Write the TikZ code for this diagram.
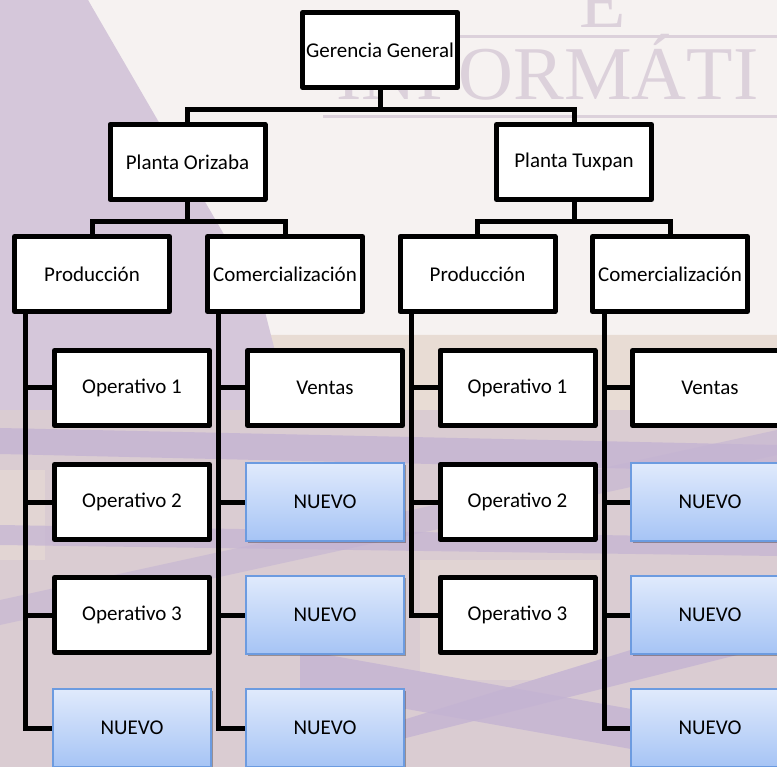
\documentclass[tikz,border=0pt]{standalone}
\usepackage{fontspec}
\setmainfont{Carlito}
\newfontfamily\marcafont{Liberation Serif}
\usetikzlibrary{shadows}
\definecolor{fondo}{HTML}{DACCD2}
\definecolor{claro}{HTML}{F6F2F1}
\definecolor{lavanda}{HTML}{D5C7DA}
\definecolor{banda}{HTML}{C4B3D3}
\definecolor{arena}{HTML}{E8DCD4}
\definecolor{marcagris}{HTML}{DCD1DB}
\definecolor{nuevoarriba}{HTML}{E0EAFC}
\definecolor{nuevoabajo}{HTML}{A6C4F5}
\definecolor{nuevoborde}{HTML}{6C9BE0}

\begin{document}
\begin{tikzpicture}[x=1pt,y=-1pt,
  unidad/.style={draw=black,line width=5pt,line join=round,fill=white,
    minimum width=155pt,minimum height=75pt,inner sep=1pt,
    font=\fontsize{21}{25}\selectfont},
  nuevo/.style={draw=nuevoborde,line width=1.5pt,top color=nuevoarriba,
    bottom color=nuevoabajo,minimum width=158pt,minimum height=78pt,
    inner sep=1pt,font=\fontsize{21}{25}\selectfont,
    drop shadow={shadow xshift=1.5pt,shadow yshift=-1.5pt,opacity=.3,fill=black}},
  enlace/.style={line width=5pt,black,line join=miter},
  marca/.style={marcagris,inner sep=0pt,font=\marcafont\fontsize{76}{80}\selectfont}]
\useasboundingbox (0,0) rectangle (777,767);
\clip (0,0) rectangle (777,767);
% fondo
\fill[fondo] (0,0) rectangle (777,767);
\fill[claro] (88,0) -- (777,0) -- (777,335) -- (260,335) -- cycle;
\fill[arena] (260,335) -- (777,335) -- (777,410) -- (290,410) -- cycle;
\fill[lavanda] (0,0) -- (88,0) -- (262,300) -- (290,410) -- (0,410) -- cycle;
\fill[arena,opacity=.6] (0,470) -- (45,470) -- (45,560) -- (0,560) -- cycle;
\fill[arena,opacity=.5] (420,560) -- (600,560) -- (600,680) -- (420,680) -- cycle;
\fill[banda,opacity=.8] (0,428) -- (777,445) -- (777,472) -- (0,454) -- cycle;
\fill[banda,opacity=.6] (0,600) -- (777,430) -- (777,455) -- (0,625) -- cycle;
\fill[banda,opacity=.7] (0,525) -- (777,538) -- (777,556) -- (0,545) -- cycle;
\fill[banda,opacity=.8] (300,650) -- (777,735) -- (777,775) -- (300,690) -- cycle;
\fill[banda,opacity=.8] (250,767) -- (777,605) -- (777,645) -- (290,767) -- cycle;
% marca de agua
\node[marca,anchor=base west] (wmtexto) at (336,100) {INFORMÁTI};
\node[marca,anchor=base] (wmletra) at (603,28) {E};
\draw[marcagris,line width=3pt] (320,37) -- (777,37);
\draw[marcagris,line width=3pt] (323,117) -- (777,117);
% unidades
\node[unidad] (gg) at (380,50) {Gerencia General};
\node[unidad] (po) at (187.5,162) {Planta Orizaba};
\node[unidad] (pt) at (574,162) {Planta Tuxpan};
\node[unidad] (op) at (92,274) {Producción};
\node[unidad] (oc) at (285,274) {Comercialización};
\node[unidad] (tp) at (477.5,274) {Producción};
\node[unidad] (tc) at (670,274) {Comercialización};
\node[unidad] (op1) at (132,388) {Operativo 1};
\node[unidad] (op2) at (132,502) {Operativo 2};
\node[unidad] (op3) at (132,615) {Operativo 3};
\node[nuevo] (op4) at (132,728) {NUEVO};
\node[unidad] (oc1) at (325,388) {Ventas};
\node[nuevo] (oc2) at (325,502) {NUEVO};
\node[nuevo] (oc3) at (325,615) {NUEVO};
\node[nuevo] (oc4) at (325,728) {NUEVO};
\node[unidad] (tp1) at (517.5,388) {Operativo 1};
\node[unidad] (tp2) at (517.5,502) {Operativo 2};
\node[unidad] (tp3) at (517.5,615) {Operativo 3};
\node[unidad] (tc1) at (710,388) {Ventas};
\node[nuevo] (tc2) at (710,502) {NUEVO};
\node[nuevo] (tc3) at (710,615) {NUEVO};
\node[nuevo] (tc4) at (710,728) {NUEVO};
% enlaces
\draw[enlace] (gg.south) -- ++(0,20) -| (po.north);
\draw[enlace] (gg.south) -- ++(0,20) -| (pt.north);
\draw[enlace] (po.south) -- ++(0,20) -| (op.north);
\draw[enlace] (po.south) -- ++(0,20) -| (oc.north);
\draw[enlace] (pt.south) -- ++(0,20) -| (tp.north);
\draw[enlace] (pt.south) -- ++(0,20) -| (tc.north);
\coordinate (opv) at ([xshift=13.5pt]op.south west);
\coordinate (ocv) at ([xshift=13.5pt]oc.south west);
\coordinate (tpv) at ([xshift=13.5pt]tp.south west);
\coordinate (tcv) at ([xshift=14.5pt]tc.south west);
\draw[enlace] (opv) |- (op1.west);
\draw[enlace] (opv) |- (op2.west);
\draw[enlace] (opv) |- (op3.west);
\draw[enlace] (opv) |- (op4.west);
\draw[enlace] (ocv) |- (oc1.west);
\draw[enlace] (ocv) |- (oc2.west);
\draw[enlace] (ocv) |- (oc3.west);
\draw[enlace] (ocv) |- (oc4.west);
\draw[enlace] (tpv) |- (tp1.west);
\draw[enlace] (tpv) |- (tp2.west);
\draw[enlace] (tpv) |- (tp3.west);
\draw[enlace] (tcv) |- (tc1.west);
\draw[enlace] (tcv) |- (tc2.west);
\draw[enlace] (tcv) |- (tc3.west);
\draw[enlace] (tcv) |- (tc4.west);
\end{tikzpicture}
\end{document}
